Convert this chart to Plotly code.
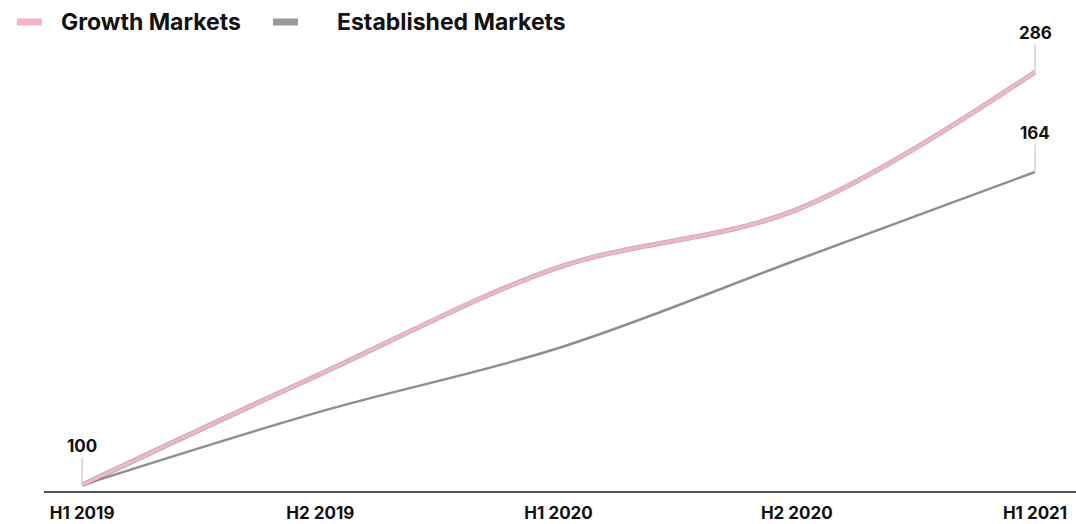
import plotly.graph_objects as go

# Half-year periods and indexed values (H1 2019 = 100)
periods = ["H1 2019", "H2 2019", "H1 2020", "H2 2020", "H1 2021"]
growth_markets = [100, 150, 198, 224, 286]
established_markets = [100, 115, 128, 146, 164]

PINK = "#f6b3c8"
GREY = "#8f8f8f"
FONT = "Inter"

W, H = 1076, 524
M_L, M_R, M_T, M_B = 44, 0, 40, 33
PLOT_W, PLOT_H = W - M_L - M_R, H - M_T - M_B

fig = go.Figure()

# Established markets on the primary (hidden) y axis
fig.add_trace(go.Scatter(
    x=periods, y=established_markets, mode="lines", name="Established Markets",
    line=dict(color=GREY, width=2.5, shape="spline", smoothing=1.0),
    yaxis="y", showlegend=False, hoverinfo="skip",
))

# Growth markets: soft grey edge beneath the pink stroke
fig.add_trace(go.Scatter(
    x=periods, y=growth_markets, mode="lines",
    line=dict(color="rgba(110,110,110,0.55)", width=5, shape="spline", smoothing=1.0),
    yaxis="y2", showlegend=False, hoverinfo="skip",
))
fig.add_trace(go.Scatter(
    x=periods, y=growth_markets, mode="lines", name="Growth Markets",
    line=dict(color=PINK, width=3.5, shape="spline", smoothing=1.0),
    yaxis="y2", showlegend=False, hoverinfo="skip",
))

# Value callouts with a short leader line
def callout(x, y, text, yref):
    fig.add_annotation(
        x=x, y=y, xref="x", yref=yref, text=text,
        showarrow=True, ax=0, ay=-39, arrowhead=0,
        arrowwidth=1.5, arrowcolor="#d2d2d2",
        font=dict(family=FONT, size=17, color="#111111", weight=700),
    )

callout(periods[0], growth_markets[0], str(growth_markets[0]), "y2")
callout(periods[-1], growth_markets[-1], str(growth_markets[-1]), "y2")
callout(periods[-1], established_markets[-1], str(established_markets[-1]), "y")

# Header key: swatch + label, placed in pixel terms above the plot
def px_x(px):
    return (px - M_L) / PLOT_W

def px_y(py):
    return (H - M_B - py) / PLOT_H

key_items = [
    ("Growth Markets", PINK, 17, 42, 59),
    ("Established Markets", "#999999", 273, 298, 335),
]
KEY_Y = 22
for label, color, sx0, sx1, tx in key_items:
    fig.add_shape(
        type="line", xref="paper", yref="paper",
        x0=px_x(sx0), x1=px_x(sx1), y0=px_y(KEY_Y), y1=px_y(KEY_Y),
        line=dict(color=color, width=7),
    )
    fig.add_annotation(
        xref="paper", yref="paper", x=px_x(tx), y=px_y(KEY_Y),
        xanchor="left", yanchor="middle", showarrow=False, text=label,
        font=dict(family=FONT, size=23, color="#111111", weight=700),
    )

fig.update_layout(
    width=W, height=H,
    margin=dict(l=M_L, r=M_R, t=M_T, b=M_B),
    paper_bgcolor="white", plot_bgcolor="white",
    font=dict(family=FONT, size=17, color="#111111", weight=700),
    xaxis=dict(
        type="category", range=[-0.16, 4.172],
        showgrid=False, zeroline=False,
        showline=True, linecolor="#555555", linewidth=2,
        ticks="outside", ticklen=6, tickcolor="rgba(0,0,0,0)",
        tickfont=dict(family=FONT, size=17, color="#111111", weight=700),
    ),
    yaxis=dict(range=[98.77, 190.99], visible=False, fixedrange=True),
    yaxis2=dict(range=[97.30, 300.41], visible=False, overlaying="y"),
    showlegend=False,
)

fig.write_html("out.html")
